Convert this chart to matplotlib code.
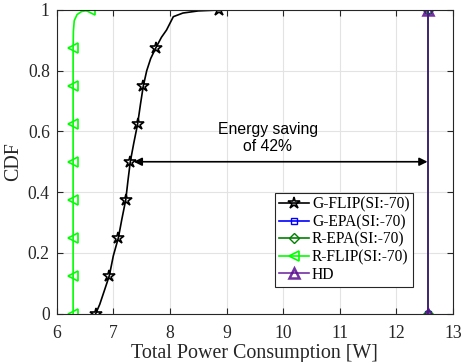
import numpy as np
import matplotlib.pyplot as plt

# CDF levels where the markers sit
cdf_marks = [0, 0.125, 0.25, 0.375, 0.5, 0.625, 0.75, 0.875, 1.0]

# G-FLIP curve
gflip_x = [6.69, 6.76, 6.85, 6.93, 7.00, 7.09, 7.15, 7.22, 7.26, 7.30, 7.36, 7.43,
           7.48, 7.53, 7.59, 7.66, 7.75, 7.85, 7.94, 8.06, 8.23, 8.50, 8.87]
gflip_y = [0.0, 0.03, 0.08, 0.125, 0.19, 0.25, 0.31, 0.375, 0.44, 0.5, 0.56, 0.625,
           0.69, 0.75, 0.80, 0.84, 0.875, 0.91, 0.934, 0.978, 0.99, 0.997, 1.0]
gflip_mk = [0, 3, 5, 7, 9, 11, 13, 16, 22]

# R-FLIP curve
rflip_x = [6.29, 6.29, 6.29, 6.29, 6.29, 6.29, 6.29, 6.29, 6.295, 6.31, 6.36, 6.44, 6.58]
rflip_y = [0.0, 0.125, 0.25, 0.375, 0.5, 0.625, 0.75, 0.875, 0.93, 0.965, 0.985, 0.995, 1.0]
rflip_mk = [0, 1, 2, 3, 4, 5, 6, 7, 12]

# the other schemes are a single power level
gepa_x = [12.55, 12.55]
repa_x = [12.55, 12.55]
hd_x = [12.55, 12.55]
step_y = [0, 1]

plt.rcParams['font.family'] = ['Liberation Serif', 'DejaVu Serif']

fig = plt.figure(figsize=(4.61, 3.62), dpi=100)
ax = fig.add_axes([56.7 / 461, 1 - 313.5 / 362, (453 - 56.7) / 461, (313.5 - 10) / 362])

ax.plot(gflip_x, gflip_y, color='black', marker='*', markevery=gflip_mk,
        markersize=9, markeredgewidth=1.2, markerfacecolor='none', lw=1.2,
        label='G-FLIP(SI:-70)')
ax.plot(gepa_x, step_y, color='blue', marker='s', markersize=5,
        markerfacecolor='none', lw=1.2, label='G-EPA(SI:-70)')
ax.plot(repa_x, step_y, color='#008000', marker='D', markersize=5,
        markerfacecolor='none', lw=1.2, label='R-EPA(SI:-70)')
ax.plot(rflip_x, rflip_y, color='#00FF00', marker='<', markevery=rflip_mk,
        markersize=6.5, markeredgewidth=1.2, markerfacecolor='none', lw=1.2,
        label='R-FLIP(SI:-70)')
ax.plot(hd_x, step_y, color='#5A0D91', marker='^', markersize=6.5,
        markeredgewidth=1.8, markerfacecolor='none', lw=1.2, alpha=0.85, label='HD')

# double arrow for the saving
ax.annotate('', xy=(7.36, 0.5), xytext=(12.55, 0.5),
            arrowprops=dict(arrowstyle='<|-|>', color='black', lw=1.2,
                            mutation_scale=12, shrinkA=0, shrinkB=0))
ax.text(9.73, 0.578, 'Energy saving\nof 42%', ha='center', va='center',
        fontsize=11.3, family='Liberation Sans', linespacing=1.1)

ax.set_xlim(6, 13)
ax.set_ylim(0, 1)
ax.set_xticks(range(6, 14))
ax.set_yticks([0, 0.2, 0.4, 0.6, 0.8, 1])
ax.set_yticklabels(['0', '0.2', '0.4', '0.6', '0.8', '1'])
ax.grid(True, color='#e3e3e3', lw=0.8)
ax.set_axisbelow(True)
ax.tick_params(direction='in', top=True, right=True, labelsize=12.7, length=4,
               color='#262626', labelcolor='#262626', pad=5)
ax.tick_params(axis='x', pad=8)
for s in ax.spines.values():
    s.set_color('#262626')
    s.set_linewidth(0.8)

ax.set_xlabel('Total Power Consumption [W]', fontsize=14.4, color='#262626', labelpad=2)
ax.set_ylabel('CDF', fontsize=14.4, color='#262626', labelpad=3)

leg = ax.legend(loc='lower right', bbox_to_anchor=(0.9, 0.088), fontsize=11.2,
                fancybox=False, edgecolor='#262626', framealpha=1,
                handlelength=1.9, handletextpad=0.2, borderpad=0.25,
                labelspacing=0.1, borderaxespad=0)
leg.get_frame().set_linewidth(0.8)

fig.savefig('out.png', dpi=100)
plt.close(fig)
